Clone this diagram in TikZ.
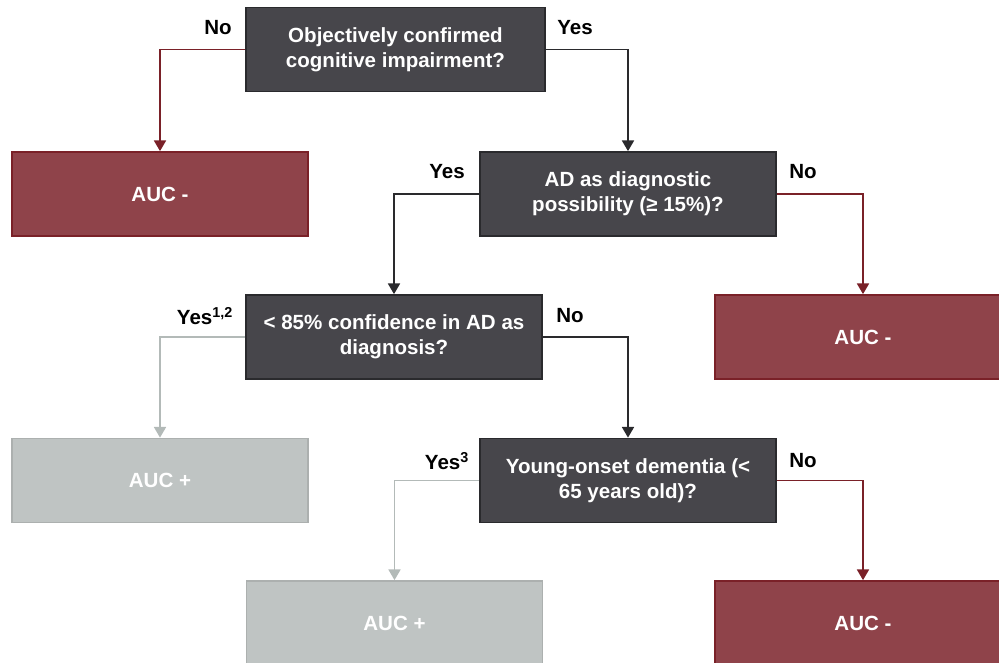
\documentclass[tikz,border=0pt]{standalone}
\usepackage{fontspec}
\setmainfont{Liberation Sans}
\usetikzlibrary{arrows.meta}
\definecolor{qfill}{HTML}{47464B}
\definecolor{qdraw}{HTML}{2A2A2D}
\definecolor{rfill}{HTML}{8F434A}
\definecolor{rdraw}{HTML}{7A2128}
\definecolor{gfill}{HTML}{BFC4C3}
\definecolor{gline}{HTML}{B3BAB8}
\tikzset{
  box/.style={rectangle, minimum width=296*0.75pt, minimum height=84*0.75pt, inner sep=0pt, line width=1.3pt,
    align=center, font=\fontsize{15.4}{19}\selectfont\bfseries, text=white},
  qbox/.style={box, fill=qfill, draw=qdraw},
  rbox/.style={box, fill=rfill, draw=rdraw},
  gbox/.style={box, fill=gfill, draw=gfill!90!black},
  arr/.style={line width=1.3pt, -{Triangle[width=9pt,length=8pt]}},
  darr/.style={arr, draw=qdraw},
  rarr/.style={arr, draw=rdraw},
  garr/.style={arr, draw=gline},
  lbl/.style={font=\fontsize{15.4}{18}\selectfont\bfseries, text=black, inner sep=0pt},
}
\begin{document}
\begin{tikzpicture}[x=0.75pt,y=-0.75pt]
\useasboundingbox (0,0) rectangle (999,663);
\clip (0,0) rectangle (999,663);
\node[qbox, minimum width=299*0.75pt] (q1) at (395.5,49.5) {Objectively confirmed\\cognitive impairment?};
\node[rbox] (r1) at (160,194) {AUC -};
\node[qbox] (q2) at (628,194) {AD as diagnostic\\possibility (≥ 15\%)?};
\node[qbox] (q3) at (394,337) {< 85\% confidence in AD as\\diagnosis?};
\node[rbox] (r2) at (863,337) {AUC -};
\node[gbox] (g1) at (160,480.5) {AUC +};
\node[qbox] (q4) at (628,480.5) {Young-onset dementia (<\\65 years old)?};
\node[gbox] (g2) at (394.5,623) {AUC +};
\node[rbox] (r3) at (863,623) {AUC -};

\draw[rarr] (q1.west) -| (r1.north);
\draw[darr] (q1.east) -| (q2.north);
\draw[darr] (q2.west) -| (q3.north);
\draw[rarr] (q2.east) -| (r2.north);
\draw[garr] (q3.west) -| (g1.north);
\draw[darr] (q3.east) -| (q4.north);
\draw[garr] (q4.west) -| (g2.north);
\draw[rarr] (q4.east) -| (r3.north);

\node[lbl] (l1) at (218,28) {No};
\node[lbl] (l2) at (575,28) {Yes};
\node[lbl] (l3) at (447,172) {Yes};
\node[lbl] (l4) at (803,172) {No};
\node[lbl] (l5) at (205,316) {Yes\textsuperscript{1,2}};
\node[lbl] (l6) at (570,316) {No};
\node[lbl] (l7) at (447,461) {Yes\textsuperscript{3}};
\node[lbl] (l8) at (803,461) {No};
\end{tikzpicture}
\end{document}
